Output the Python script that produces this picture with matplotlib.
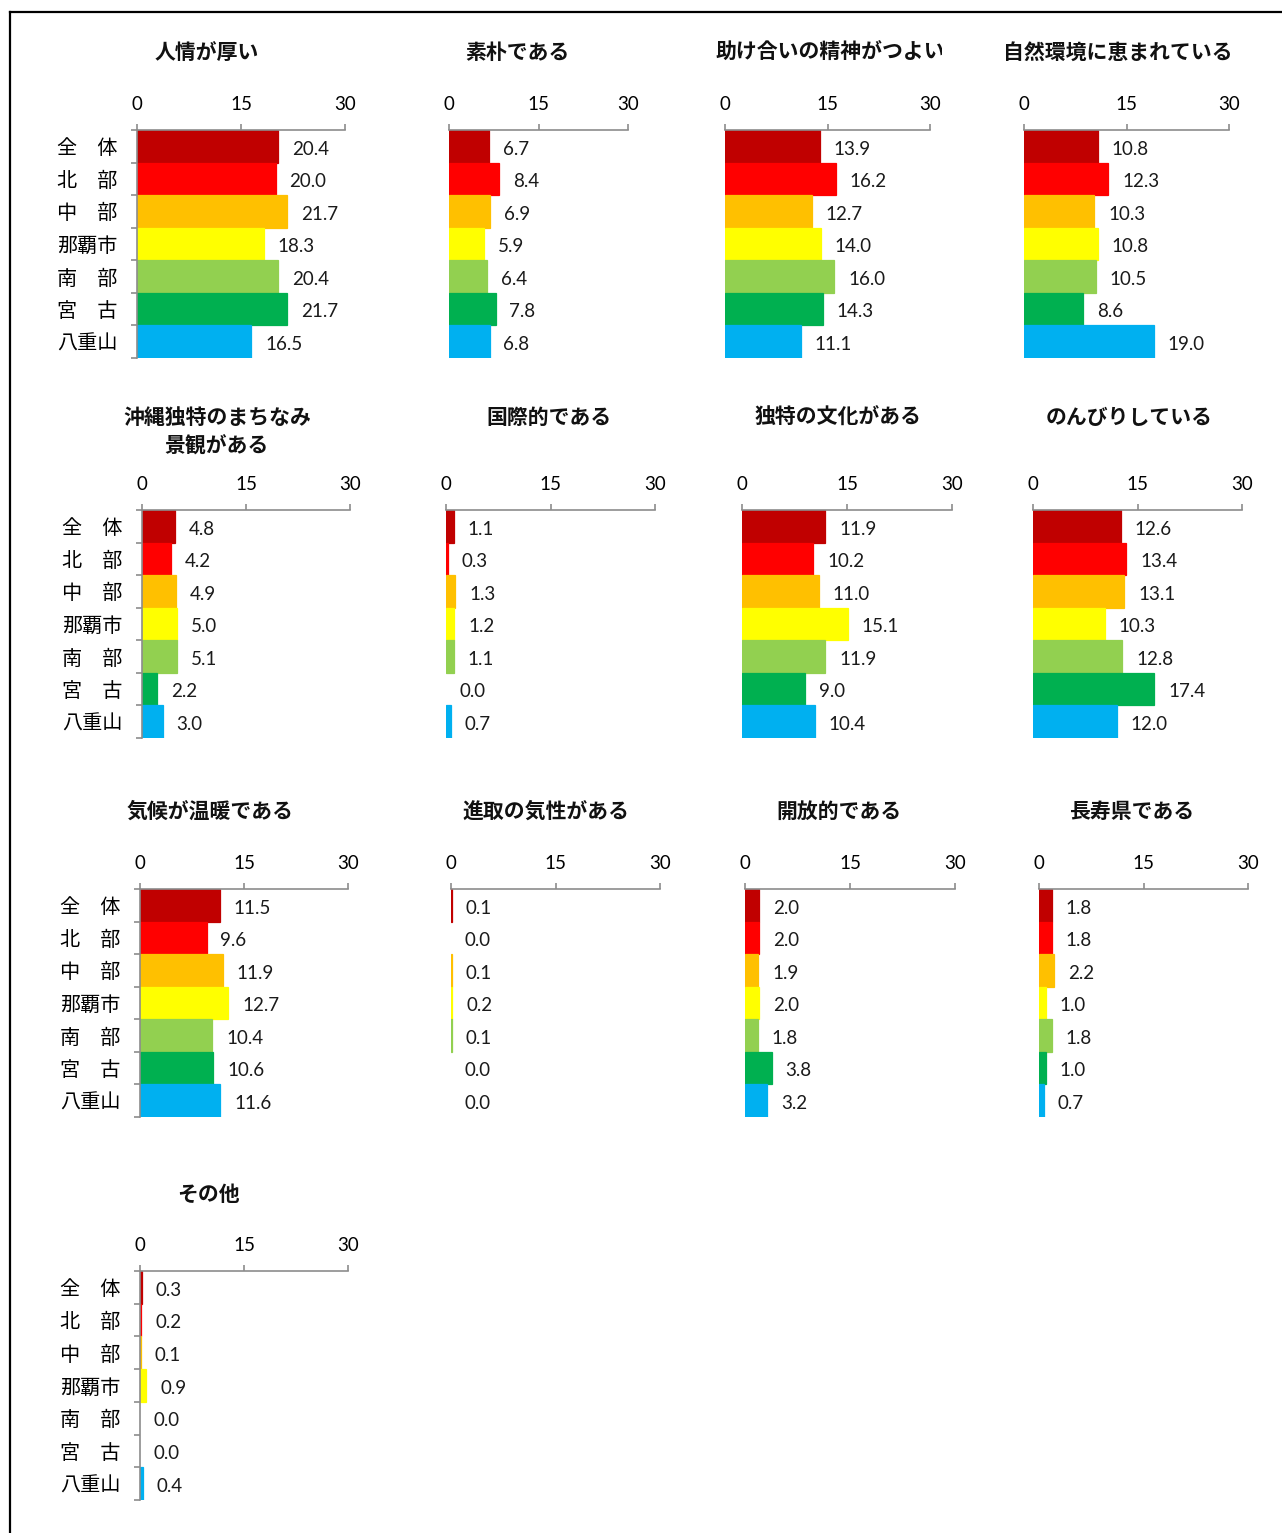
import matplotlib
matplotlib.use("Agg")
import matplotlib.pyplot as plt
from matplotlib.lines import Line2D
from matplotlib.transforms import Bbox

plt.rcParams["font.family"] = ["Noto Sans CJK JP", "DejaVu Sans"]

W, H = 1282, 1533

regions = ["全　体", "北　部", "中　部", "那覇市", "南　部", "宮　古", "八重山"]
colors = ["#C00000", "#FF0000", "#FFC000", "#FFFF00", "#92D050", "#00B050", "#00B0F0"]
ticks = [0, 15, 30]

titles = [
    "人情が厚い", "素朴である", "助け合いの精神がつよい", "自然環境に恵まれている",
    "沖縄独特のまちなみ\n景観がある", "国際的である", "独特の文化がある", "のんびりしている",
    "気候が温暖である", "進取の気性がある", "開放的である", "長寿県である",
    "その他",
]

ninjo = [20.4, 20.0, 21.7, 18.3, 20.4, 21.7, 16.5]
soboku = [6.7, 8.4, 6.9, 5.9, 6.4, 7.8, 6.8]
tasukeai = [13.9, 16.2, 12.7, 14.0, 16.0, 14.3, 11.1]
shizen = [10.8, 12.3, 10.3, 10.8, 10.5, 8.6, 19.0]
machinami = [4.8, 4.2, 4.9, 5.0, 5.1, 2.2, 3.0]
kokusai = [1.1, 0.3, 1.3, 1.2, 1.1, 0.0, 0.7]
bunka = [11.9, 10.2, 11.0, 15.1, 11.9, 9.0, 10.4]
nonbiri = [12.6, 13.4, 13.1, 10.3, 12.8, 17.4, 12.0]
kiko = [11.5, 9.6, 11.9, 12.7, 10.4, 10.6, 11.6]
shinshu = [0.1, 0.0, 0.1, 0.2, 0.1, 0.0, 0.0]
kaiho = [2.0, 2.0, 1.9, 2.0, 1.8, 3.8, 3.2]
choju = [1.8, 1.8, 2.2, 1.0, 1.8, 1.0, 0.7]
sonota = [0.3, 0.2, 0.1, 0.9, 0.0, 0.0, 0.4]

series = [ninjo, soboku, tasukeai, shizen, machinami, kokusai, bunka, nonbiri,
          kiko, shinshu, kaiho, choju, sonota]

# panel layout in pixels: (x of 0, x of 30, axis top, axis bottom, title x, title y)
layout = [
    (137, 345, 130, 358, 207, 52), (449, 628, 130, 358, 517, 52),
    (725, 930, 130, 358, 830, 52), (1024, 1229, 130, 358, 1118, 52),
    (142, 350, 510, 738, 217, 432), (446, 655, 510, 738, 549, 417),
    (742, 952, 510, 738, 838, 417), (1033, 1242, 510, 738, 1129, 417),
    (140, 348, 889, 1117, 210, 811), (451, 660, 889, 1117, 546, 811),
    (745, 955, 889, 1117, 839, 811), (1039, 1248, 889, 1117, 1132, 811),
    (140, 348, 1271, 1500, 209, 1194),
]

GRAY = "#8c8c8c"
NUM_FONT = "Lato"

fig = plt.figure(figsize=(W / 100, H / 100), dpi=100)
fig.patch.set_facecolor("white")

# outer frame (left and top edges only visible)
fig.add_artist(Line2D([10 / W, 10 / W], [1 - 12 / H, 0], color="black", lw=1.6,
                      transform=fig.transFigure))
fig.add_artist(Line2D([10 / W, 1], [1 - 12 / H, 1 - 12 / H], color="black", lw=1.6,
                      transform=fig.transFigure))

for k, (vals, title) in enumerate(zip(series, titles)):
    x0, x1, yt, yb, tx, ty = layout[k]
    ax = fig.add_axes([x0 / W, 1 - yb / H, (x1 - x0) / W, (yb - yt) / H])
    ypos = list(range(len(regions)))
    # thin edge so tiny values (0.1, 0.2) still show as a coloured sliver
    ax.barh(ypos, vals, height=1.0, color=colors, edgecolor=colors,
            linewidth=[0.9 if v > 0 else 0 for v in vals])
    ax.set_xlim(0, 30)
    ax.set_ylim(6.5, -0.5)

    ax.xaxis.tick_top()
    ax.set_xticks(ticks)
    ax.set_xticklabels([str(t) for t in ticks], fontsize=13.5, family=NUM_FONT)
    ax.tick_params(axis="x", direction="out", length=4, width=1.2, color=GRAY, pad=8)

    for s in ["right", "bottom"]:
        ax.spines[s].set_visible(False)
    ax.spines["top"].set_color(GRAY)
    ax.spines["top"].set_linewidth(1.2)

    first_col = k % 4 == 0
    if first_col:
        ax.spines["left"].set_color(GRAY)
        ax.spines["left"].set_linewidth(1.2)
        ax.set_yticks(ypos)
        ax.set_yticklabels(regions, fontsize=14.5)
        ax.set_yticks([y - 0.5 for y in range(len(regions) + 1)], minor=True)
        ax.tick_params(axis="y", which="major", length=0, pad=14)
        ax.tick_params(axis="y", which="minor", direction="out", length=4,
                       width=1.2, color=GRAY)
    else:
        ax.spines["left"].set_visible(False)
        ax.set_yticks([])

    for i, v in enumerate(vals):
        ax.annotate(f"{v:.1f}", (v, i), xytext=(10, -2), textcoords="offset points",
                    ha="left", va="center", fontsize=13.5, family=NUM_FONT, color="#1a1a1a")

    t = fig.text(tx / W, 1 - ty / H, title, ha="center", va="center", fontsize=15,
                 fontweight="bold", linespacing=1.45, color="#111111")
    if k == 2:
        # the original title runs past its chart box and is cut off
        t.set_clip_box(Bbox.from_extents(0, 0, 942, H))
        t.set_clip_on(True)

fig.savefig("out.png", dpi=100, facecolor="white")
